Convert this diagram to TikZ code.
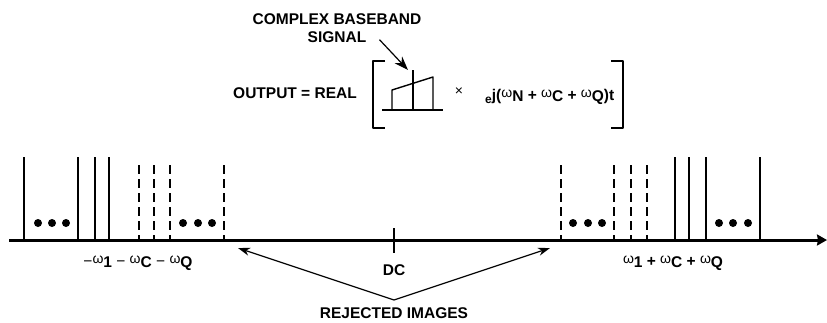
\documentclass[tikz,border=0pt]{standalone}
\usepackage{fontspec}
\setmainfont{Liberation Sans}
\usetikzlibrary{arrows.meta}

% light omega, raised, with a lowered bold subscript
\newcommand{\om}[1]{\raisebox{3pt}{\mdseries\fontsize{14}{14}\selectfont ω}\raisebox{-1.5pt}{#1}}
\newcommand{\mn}{{\mdseries −}}

\begin{document}
\begin{tikzpicture}[x=1pt, y=-1pt, >=Stealth, line join=round,
  lbl/.style={font=\bfseries\fontsize{15.5}{18}\selectfont, inner sep=0pt},
  spur/.style={line width=1.4pt},
  image/.style={line width=1.8pt, dash pattern=on 9pt off 5pt},
  axis/.style={line width=3pt, -{Stealth[length=10pt,width=11pt,inset=1pt]}},
  pointer/.style={line width=1.2pt, -{Stealth[length=12pt,width=8pt]}},
  brk/.style={line width=2pt}]
  \useasboundingbox (0,0) rectangle (827,322);

  % frequency axis
  \coordinate (ax0) at (9,240);
  \coordinate (ax1) at (827,240);

  % wanted signals (solid) and rejected images (dashed)
  \foreach \x in {24,78,95,109,675,689,706,760}
    \draw[spur] (\x,240) -- (\x,157);
  \foreach \x in {139,154,170,224,561,614,631,647}
    \draw[image] (\x,165) -- (\x,240);
  \foreach \x in {38,52,66,183,198,212,573,588,602,719,733,748}
    \fill (\x,223) circle[radius=4pt];
  \draw[axis] (ax0) -- (ax1);

  % DC marker
  \draw[spur] (394,228) -- (394,253);
  \node[lbl, anchor=base] (dc) at (394,275) {DC};

  \node[lbl, anchor=base] (negl) at (138,266) {\mn\om{1} \mn{} \om{C} \mn{} \om{Q}};
  \node[lbl, anchor=base] (posl) at (673,266) {\om{1} + \om{C} + \om{Q}};

  % rejected images
  \node[lbl, anchor=base] (rej) at (394,318) {REJECTED IMAGES};
  \coordinate (rejL) at (238,248);
  \coordinate (rejR) at (550,248);
  \draw[pointer] ([yshift=7pt]rej.north) -- (rejL);
  \draw[pointer] ([yshift=7pt]rej.north) -- (rejR);

  % output equation
  \node[lbl, anchor=base] (cbs1) at (337,24) {COMPLEX BASEBAND};
  \node[lbl, anchor=base] (cbs2) at (337,42) {SIGNAL};
  \coordinate (sigtip) at (408,70);
  \draw[line width=1.2pt, -{Stealth[length=14pt,width=10pt]}] ([xshift=13pt,yshift=-3pt]cbs2.east) -- (sigtip);

  \node[lbl, anchor=base] (out) at (295,98) {OUTPUT = REAL};
  \draw[brk] (385,61) -- (373,61) -- (373,128) -- (385,128);
  \draw[brk] (611,61) -- (623,61) -- (623,128) -- (611,128);

  % baseband spectrum sketch
  \draw[spur] (382,110) -- (443,110);
  \draw[spur] (392,110) -- (392,90) -- (433,77) -- (433,110);
  \draw[spur] (413,70) -- (413,110);

  \node[font=\mdseries\fontsize{14}{14}\selectfont, inner sep=0pt] (times) at (459,92) {×};
  \node[lbl, anchor=base west] (expo) at (485,100)
    {\raisebox{-3pt}{\fontsize{12}{12}\selectfont e}j(\om{N} + \om{C} + \om{Q})t};
\end{tikzpicture}
\end{document}
